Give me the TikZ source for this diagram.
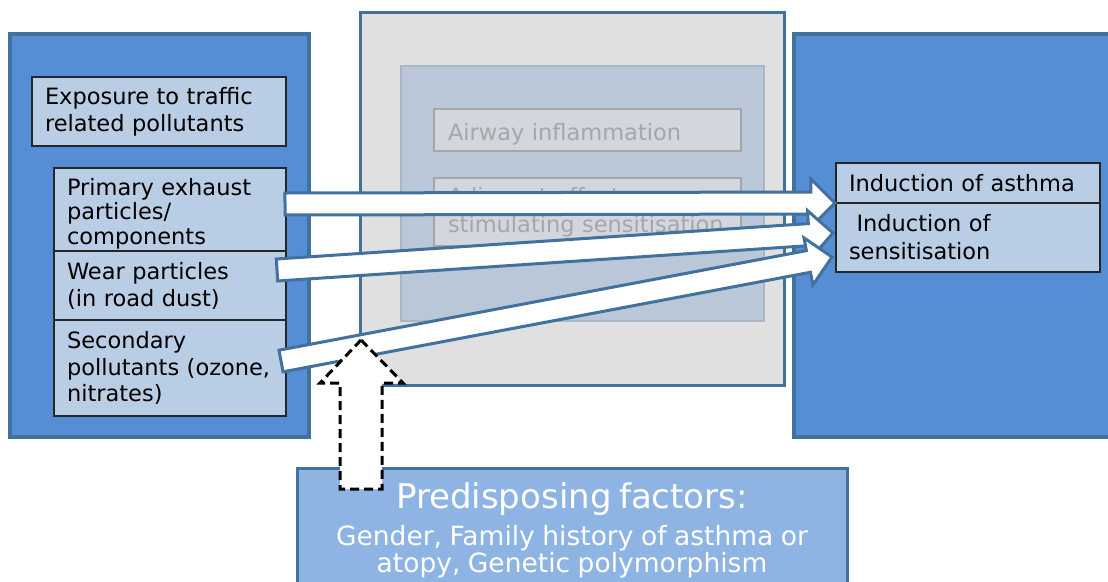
\documentclass[tikz,border=0pt]{standalone}
\usepackage{fontspec}
\setmainfont{DejaVu Sans}
\usetikzlibrary{positioning,calc}

\definecolor{boxblue}{HTML}{558ED5}
\definecolor{edgeblue}{HTML}{41719C}
\definecolor{paleblue}{HTML}{B9CDE5}
\definecolor{midblue}{HTML}{8EB4E3}
\definecolor{shadegray}{HTML}{E0E0E0}
\definecolor{fadeblue}{HTML}{B9C7D8}
\definecolor{fadeedge}{HTML}{AAB6C4}
\definecolor{fadebox}{HTML}{D2D6DE}
\definecolor{fadetext}{HTML}{A6A6A6}

% white block arrow from #1 (tail) to #2 (tip)
\newcommand{\whitearrow}[2]{%
  \coordinate (hb) at ($(#2)!24pt!(#1)$);
  \filldraw[fill=white,draw=edgeblue,line width=3pt,line join=miter]
    ($(#1)!11pt!90:(#2)$) -- ($(hb)!11pt!-90:(#1)$) -- ($(hb)!24pt!-90:(#1)$) -- (#2)
    -- ($(hb)!24pt!90:(#1)$) -- ($(hb)!11pt!90:(#1)$) -- ($(#1)!11pt!-90:(#2)$) -- cycle;
}

\begin{document}
\begin{tikzpicture}[x=1pt,y=-1pt,font=\fontsize{22.5}{27}\selectfont]
\tikzstyle{panel}=[draw=edgeblue,line width=3.5pt,fill=boxblue,rectangle,anchor=north west,inner sep=0pt,outer sep=0pt]
\tikzstyle{item}=[draw=black!85,line width=1.4pt,fill=paleblue,rectangle,anchor=north west,align=left,inner xsep=13pt,inner ysep=0pt,outer sep=0pt]
\tikzstyle{faded}=[draw=fadetext,line width=1.2pt,fill=fadebox,text=fadetext,rectangle,anchor=north west,align=left,text width=279pt,inner xsep=14pt,inner ysep=0pt,outer sep=0pt]
\tikzstyle{dashedarrow}=[draw=black,fill=white,line width=3pt,dash pattern=on 9pt off 5pt,line join=miter]
\useasboundingbox (0,0) rectangle (1108,581);

\node[panel,minimum width=299pt,minimum height=403pt] (exposurepanel) at (10,34) {};
\node[panel,minimum width=330pt,minimum height=403pt] (outcomepanel) at (794,34) {};
\node[panel,line width=3pt,fill=shadegray,minimum width=424pt,minimum height=373pt] (mechanism) at (360,12) {};
\node[panel,draw=fadeedge,line width=2pt,fill=fadeblue,minimum width=363pt,minimum height=255pt] (mechinner) at (401,66) {};
\node[faded,minimum height=42pt,text height=25pt] (airway) at (434,109) {Airway inflammation};
\node[faded,minimum height=68pt,font=\fontsize{22.5}{28}\selectfont] (adjuvant) at (434,178) {Adjuvant effect\\stimulating sensitisation};

\node[item,text width=228pt,minimum height=69pt] (exposure) at (32,77) {Exposure to traffic\\related pollutants};
\node[item,text width=206pt,minimum height=83pt,text height=25pt,font=\fontsize{22.5}{24.5}\selectfont] (primary) at (54,168) {Primary exhaust\\particles/\\components};
\node[item,text width=206pt,minimum height=69pt,below=0pt of primary] (wear) {Wear particles\\(in road dust)};
\node[item,text width=206pt,minimum height=96pt,font=\fontsize{22.5}{26.5}\selectfont,below=0pt of wear] (secondary) {Secondary\\pollutants (ozone,\\nitrates)};

\node[item,text width=238pt,minimum height=40pt] (asthma) at (836,163) {Induction of asthma};
\node[item,text width=238pt,minimum height=69pt,font=\fontsize{22.5}{28}\selectfont,below=0pt of asthma] (sensitisation) {\ Induction of\\sensitisation};

\node[panel,line width=3pt,fill=midblue,minimum width=550pt,minimum height=140pt] (predisposing) at (297,468) {};
\node[text=white,align=center,text width=550pt,inner sep=0pt,anchor=north,below=14pt of predisposing.north] (predistext)
  {{\fontsize{34}{36}\selectfont Predisposing factors:\par}\vspace{8pt}
   \fontsize{26.5}{29.5}\selectfont Gender, Family history of asthma or\\atopy, Genetic polymorphism};

\coordinate (primaryout) at (285,204);
\coordinate (wearout) at (277,270);
\coordinate (secondaryout) at (281,361);
\coordinate (asthmain) at (835,203);
\coordinate (sensin) at (833,233);
\coordinate (sensinlow) at (832,257);
\whitearrow{primaryout}{asthmain}
\whitearrow{wearout}{sensin}
\whitearrow{secondaryout}{sensinlow}

\coordinate (factortip) at (361,340);
\draw[dashedarrow] (factortip) -- ++(42,43) -- ++(-21,0) -- ++(0,106) -- ++(-42,0) -- ++(0,-106) -- ++(-20,0) -- cycle;
\end{tikzpicture}
\end{document}
